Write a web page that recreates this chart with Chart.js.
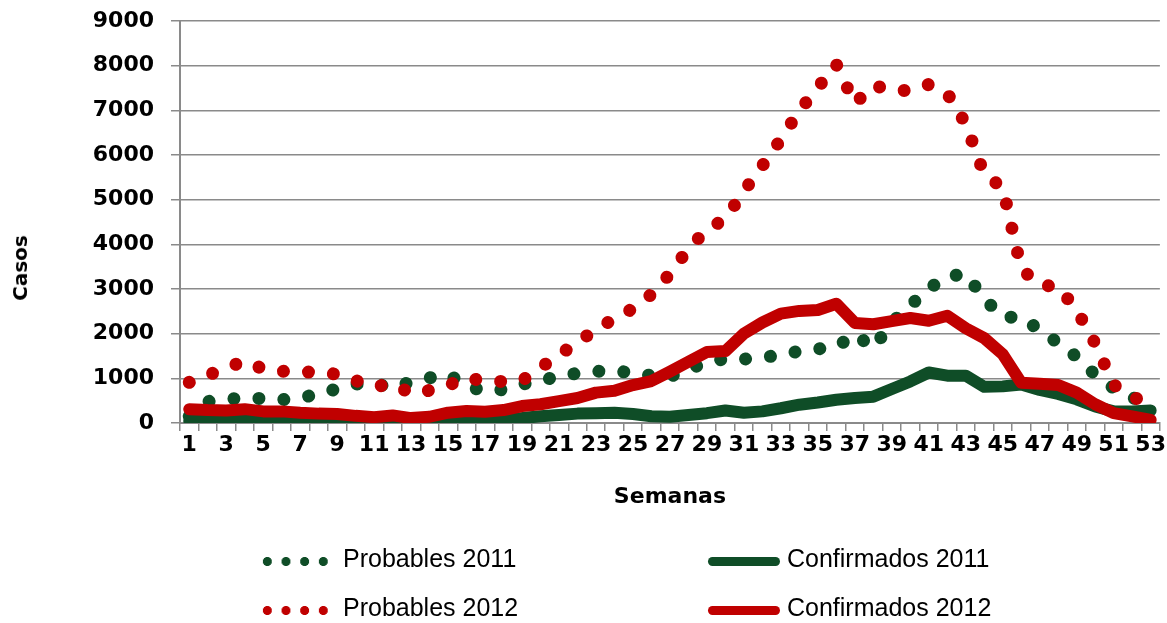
<!DOCTYPE html>
<html>
<head>
<meta charset="utf-8">
<script src="https://cdn.jsdelivr.net/npm/chart.js@4/dist/chart.umd.min.js"></script>
<style>
  body { margin: 0; background: #fff; }
  #wrap { position: relative; width: 1167px; height: 623px; }
  #casos { position: absolute; left: 20px; top: 268px; transform: translate(-50%, -50%) rotate(-90deg);
           font: bold 20px "DejaVu Sans"; color: #000; white-space: nowrap; }
  .txt { position: absolute; font: 25px "Liberation Sans"; line-height: 25px; color: #000; white-space: nowrap; }
  .dots { position: absolute; width: 75px; height: 9px; background-size: 18.67px 9px; background-repeat: repeat-x; }
  .bar { position: absolute; width: 72px; height: 9px; border-radius: 5px; }
</style>
</head>
<body>
<div id="wrap">
  <canvas id="theCanvas" width="1167" height="623"></canvas>
  <div id="casos">Casos</div>
  <div id="legend"></div>
</div>
<script>
var verde = '#0f4d27'
var rojo = '#c00000'
var gris = '#8a8a8a'

// semanas epidemiologicas
var semanas = ['1','2','3','4','5','6','7','8','9','10','11','12','13','14','15','16','17','18','19','20',
  '21','22','23','24','25','26','27','28','29','30','31','32','33','34','35','36','37','38','39','40',
  '41','42','43','44','45','46','47','48','49','50','51','52','53']

var probables2011 = [150, 480, 540, 550, 550, 520, 570, 640, 770, 870, 880, 790, 920, 1010, 1090, 830, 710, 750, 870, 935,
  1060, 1110, 1155, 1170, 1120, 1060, 1040, 1210, 1350, 1440, 1430, 1470, 1520, 1610, 1660, 1700, 1990, 1680, 2250, 2630,
  3010, 3280, 3340, 2780, 2370, 2370, 2080, 1790, 1480, 1080, 780, 590, 280]

var confirmados2011 = [50, 60, 60, 70, 40, 40, 30, 20, 20, 10, 10, 10, 10, 10, 50, 90, 70, 90, 110, 150,
  180, 210, 220, 230, 200, 150, 140, 180, 220, 280, 230, 260, 330, 410, 460, 520, 560, 590, 760, 930,
  1130, 1060, 1060, 810, 820, 860, 740, 650, 530, 370, 260, 260, 280]

var probables2012 = [910, 1070, 1230, 1390, 1210, 1160, 1140, 1140, 1090, 950, 810, 880, 660, 730, 840, 1020, 930, 930, 950, 1240,
  1520, 1810, 2090, 2340, 2560, 2880, 3340, 3900, 4330, 4570, 5190, 5760, 6350, 6990, 7510, 8030, 7150, 7560, 7450, 7440,
  7580, 7380, 6700, 5560, 5270, 3450, 3090, 3050, 2530, 1780, 850, 650, 220]

var confirmados2012 = [310, 290, 280, 310, 260, 260, 230, 210, 200, 160, 130, 170, 110, 140, 230, 270, 250, 290, 380, 420,
  490, 560, 680, 720, 850, 940, 1150, 1370, 1590, 1610, 2000, 2250, 2450, 2510, 2530, 2670, 2240, 2210, 2280, 2350,
  2290, 2400, 2120, 1900, 1540, 900, 880, 850, 680, 420, 220, 150, 70]

var tickFont = { family: 'DejaVu Sans', weight: 'bold', size: 22 }

var ctx = document.getElementById('theCanvas')

var myChart = new Chart(ctx, {
  type: 'line',
  data: {
    labels: semanas,
    datasets: [
      { label: 'Probables 2011', data: probables2011, borderColor: verde, borderWidth: 13,
        borderDash: [0.01, 25], borderCapStyle: 'round', order: 4 },
      { label: 'Confirmados 2011', data: confirmados2011, borderColor: verde, borderWidth: 12,
        borderJoinStyle: 'round', borderCapStyle: 'round', order: 3 },
      { label: 'Probables 2012', data: probables2012, borderColor: rojo, borderWidth: 13,
        borderDash: [0.01, 25], borderCapStyle: 'round', order: 2 },
      { label: 'Confirmados 2012', data: confirmados2012, borderColor: rojo, borderWidth: 12,
        borderJoinStyle: 'round', borderCapStyle: 'round', order: 1 }
    ]
  },
  options: {
    responsive: false,
    animation: false,
    layout: { padding: { top: 21, right: 6, bottom: 110, left: 0 } },
    elements: { point: { radius: 0, hoverRadius: 0 }, line: { tension: 0, fill: false } },
    datasets: { line: { clip: { left: 10, right: 10, top: 10, bottom: 0 } } },
    plugins: { legend: { display: false }, tooltip: { enabled: false } },
    scales: {
      x: {
        offset: true,
        grid: { offset: true, drawOnChartArea: false, drawTicks: true, tickLength: 8, color: gris, lineWidth: 1.5 },
        border: { color: gris, width: 2 },
        ticks: {
          autoSkip: false, maxRotation: 0, minRotation: 0, padding: 1, color: '#000', font: tickFont,
          callback: function(v, i){ return i % 2 === 0 ? semanas[i] : '' }
        },
        title: { display: true, text: 'Semanas', color: '#000', font: { family: 'DejaVu Sans', weight: 'bold', size: 22 },
          padding: { top: 4, bottom: 3 } },
        afterFit: function(s){ s.height = 90 }
      },
      y: {
        min: 0,
        max: 9000,
        grid: { color: gris, lineWidth: 1.5, tickLength: 9 },
        border: { color: gris, width: 2 },
        ticks: {
          stepSize: 1000, padding: 17, color: '#000', font: tickFont,
          callback: function(v){ return String(v) }
        },
        afterFit: function(s){
          s.width = 180
          // la etiqueta de arriba no debe empujar el area del grafico
          s.paddingTop = 12
          s.paddingBottom = 12
        }
      }
    }
  }
})

// leyenda en 2 columnas como la de Excel
var filas = [
  [ { tipo: 'dots', color: verde, text: 'Probables 2011' }, { tipo: 'bar', color: verde, text: 'Confirmados 2011' } ],
  [ { tipo: 'dots', color: rojo, text: 'Probables 2012' }, { tipo: 'bar', color: rojo, text: 'Confirmados 2012' } ]
]
var legendHtml = ''
for (var r = 0; r < filas.length; r++){
  var topTxt = 546 + r * 49
  var midSym = 561 + r * 49
  var a = filas[r][0], b = filas[r][1]
  legendHtml += '<span class="dots" style="left:258px;top:' + (midSym - 4.5) + 'px;background-image:radial-gradient(circle, ' +
    a.color + ' 4.2px, transparent 4.8px)"></span>'
  legendHtml += '<span class="txt" style="left:343px;top:' + topTxt + 'px">' + a.text + '</span>'
  legendHtml += '<span class="bar" style="left:708px;top:' + (midSym - 4.5) + 'px;background:' + b.color + '"></span>'
  legendHtml += '<span class="txt" style="left:787px;top:' + topTxt + 'px">' + b.text + '</span>'
}
document.getElementById('legend').innerHTML = legendHtml
</script>
</body>
</html>
